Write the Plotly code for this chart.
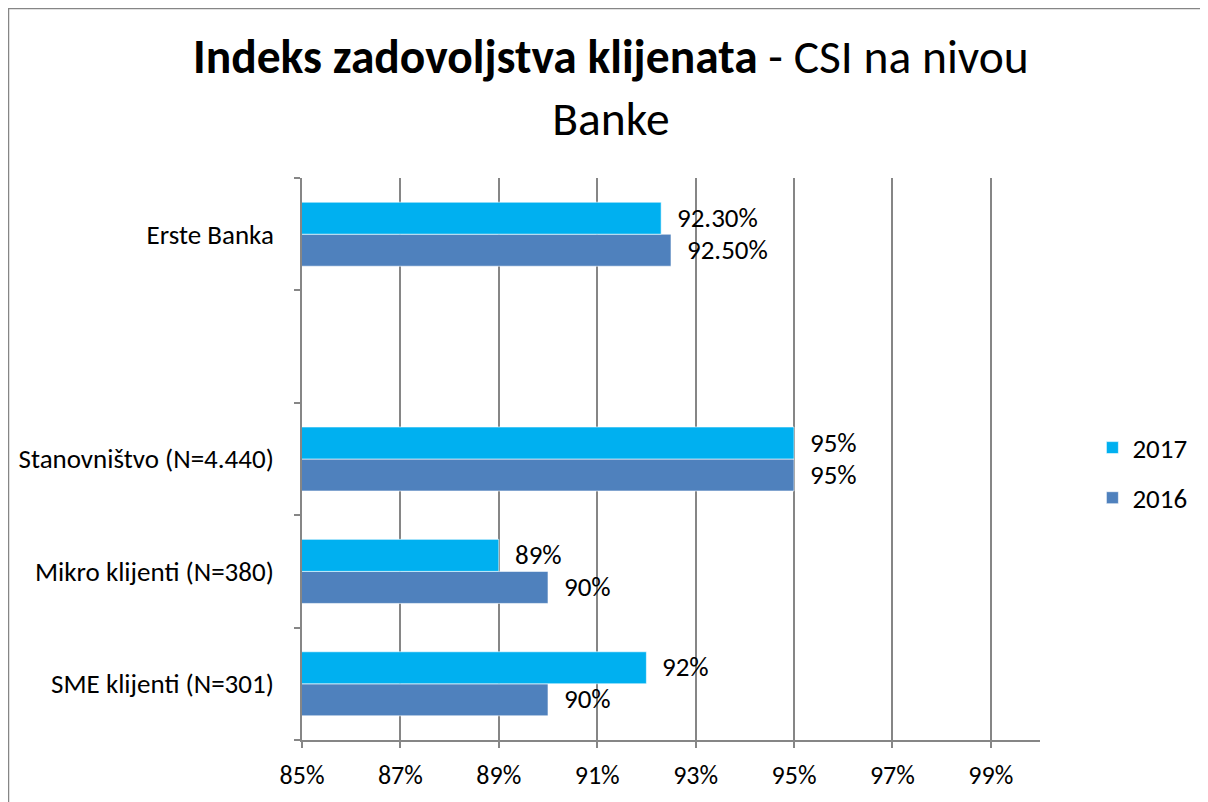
import plotly.graph_objects as go

categories = ["SME klijenti (N=301)", "Mikro klijenti (N=380)", "Stanovništvo (N=4.440)", " ", "Erste Banka"]
bar_categories = ["SME klijenti (N=301)", "Mikro klijenti (N=380)", "Stanovništvo (N=4.440)", "Erste Banka"]
values_2016 = [90.0, 90.0, 95.0, 92.5]
values_2017 = [92.0, 89.0, 95.0, 92.3]
labels_2016 = ["90%", "90%", "95%", "92.50%"]
labels_2017 = ["92%", "89%", "95%", "92.30%"]
x_tickvals = [85, 87, 89, 91, 93, 95, 97, 99]
x_ticktext = ["85%", "87%", "89%", "91%", "93%", "95%", "97%", "99%"]

FONT = "Carlito, Lato, 'Open Sans', sans-serif"
C2017 = "#00B0F0"
C2016 = "#4F81BD"
GRAY = "#868686"
EDGE = dict(color="rgba(255,255,255,0.6)", width=1)

fig = go.Figure()
fig.add_trace(go.Bar(
    y=bar_categories, x=values_2016, orientation="h", name="2016",
    base=0, marker=dict(color=C2016, line=EDGE), legendgroup="g2016", legendrank=2,
))
fig.add_trace(go.Bar(
    y=bar_categories, x=values_2017, orientation="h", name="2017",
    base=0, marker=dict(color=C2017, line=EDGE), legendgroup="g2017", legendrank=1,
))

annotations = []
for cat, v, lab in zip(bar_categories, values_2017, labels_2017):
    annotations.append(dict(x=v, y=cat, xref="x", yref="y", text=lab, showarrow=False,
                            xanchor="left", yanchor="middle", xshift=14, yshift=17,
                            font=dict(size=27, family=FONT, color="black")))
for cat, v, lab in zip(bar_categories, values_2016, labels_2016):
    annotations.append(dict(x=v, y=cat, xref="x", yref="y", text=lab, showarrow=False,
                            xanchor="left", yanchor="middle", xshift=14, yshift=-15,
                            font=dict(size=27, family=FONT, color="black")))
annotations.append(dict(
    text="<b>Indeks zadovoljstva klijenata</b> - CSI na nivou<br>Banke",
    xref="paper", yref="paper", x=0.419, y=1.16, xanchor="center", yanchor="middle",
    showarrow=False, font=dict(size=47.5, family=FONT, color="black"),
))

fig.update_layout(
    width=1208, height=802,
    margin=dict(l=294, r=176, t=170, b=70),
    paper_bgcolor="white", plot_bgcolor="white",
    font=dict(family=FONT, size=26, color="black"),
    barmode="group", bargap=0.43, bargroupgap=0,
    showlegend=True,
    legend=dict(
        x=1.071, xanchor="left", y=0.475, yanchor="middle",
        traceorder="grouped", tracegroupgap=12,
        font=dict(size=27, family=FONT),
        itemwidth=30,
    ),
    xaxis=dict(
        range=[85, 100], tickvals=x_tickvals, ticktext=x_ticktext,
        showgrid=True, gridcolor=GRAY, gridwidth=1.5,
        showline=True, linecolor=GRAY, linewidth=1.5,
        ticks="outside", ticklen=6, tickcolor=GRAY, tickwidth=1.5,
        zeroline=False, ticklabelstandoff=5,
        tickfont=dict(size=26),
    ),
    yaxis=dict(
        type="category", categoryorder="array", categoryarray=categories,
        range=[-0.5, 4.5],
        showgrid=False, showline=True, linecolor=GRAY, linewidth=1.5,
        ticks="outside", ticklen=6, tickcolor=GRAY, tickwidth=1.5,
        tickson="boundaries", ticklabelstandoff=21,
        tickfont=dict(size=27),
    ),
    annotations=annotations,
    shapes=[dict(
        type="rect", xref="paper", yref="paper",
        x0=-0.3977, x1=1.4, y0=-0.3, y1=1.3016,
        line=dict(color=GRAY, width=1.5), fillcolor="rgba(0,0,0,0)", layer="below",
    )],
)

fig.write_html("out.html")
